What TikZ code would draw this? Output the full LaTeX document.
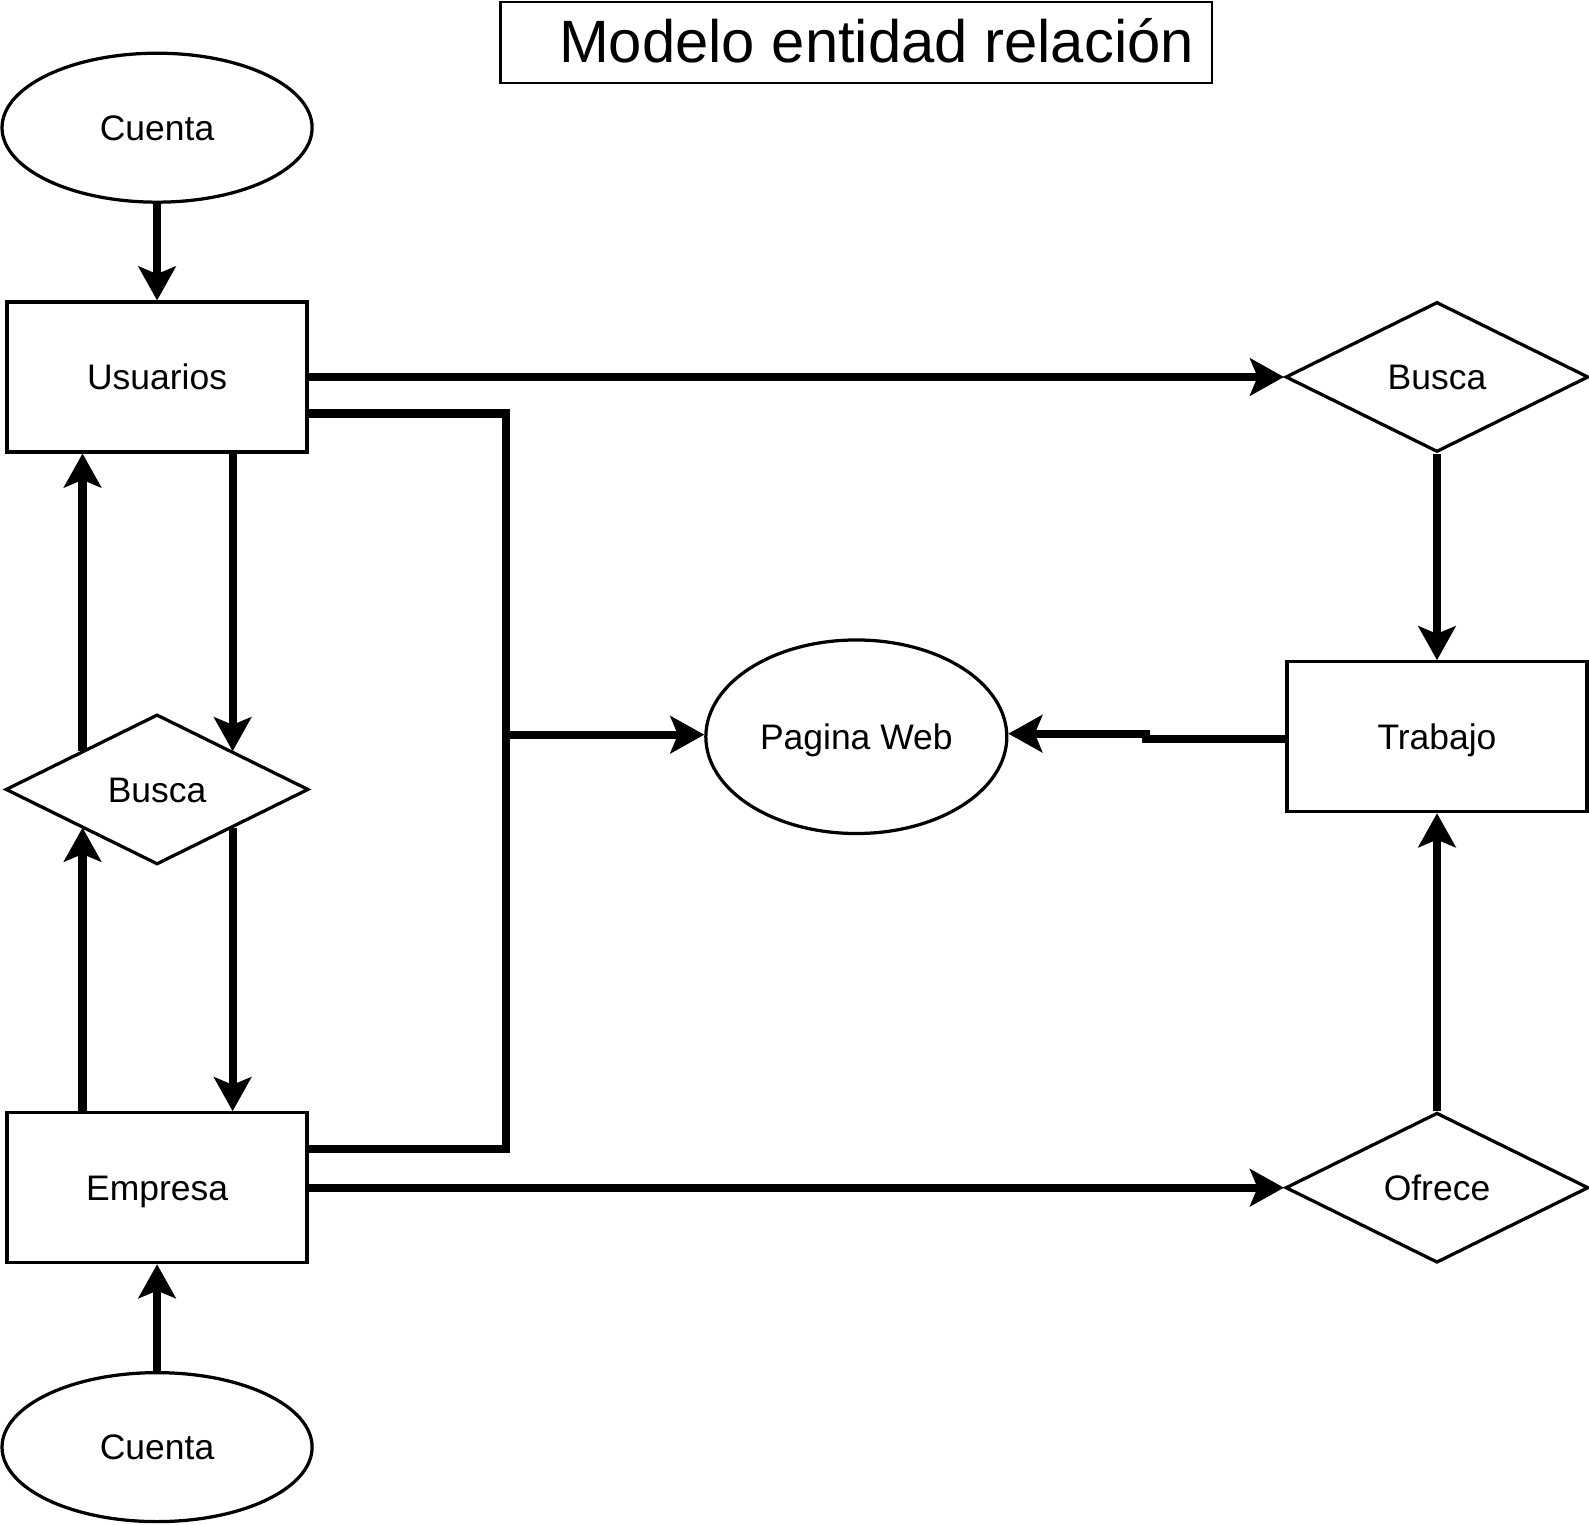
\documentclass[tikz,border=0pt]{standalone}
\usepackage{fontspec}
\setmainfont{Liberation Sans}
\usetikzlibrary{shapes.geometric}
\usetikzlibrary{arrows.meta}
\newcommand{\letra}{\fontsize{17.5}{21}\selectfont}

\begin{document}
\begin{tikzpicture}[x=0.5pt,y=-0.5pt,
    every node/.style={text height=13pt,text depth=0.6pt},
    entidad/.style={draw,line width=1.6pt,minimum width=148pt,minimum height=74pt,inner sep=0pt,font=\letra},
    atributo/.style={draw,ellipse,line width=1.6pt,minimum width=153pt,minimum height=73.5pt,inner sep=0pt,font=\letra},
    relacion/.style={draw,diamond,line width=1.6pt,minimum width=149.5pt,minimum height=74pt,inner sep=0pt,font=\letra},
    flecha/.style={line width=4pt,-{Stealth[length=17pt,width=19pt,inset=4pt,line width=0pt]}},
    linea/.style={line width=4pt}]
      \useasboundingbox (0,0) rectangle (1568,1504);
      % titulo
      \node[draw,line width=1.2pt,minimum width=351pt,minimum height=40pt,inner sep=0pt,
            text height=21pt,text depth=1pt,
            font=\fontsize{29.5}{34}\selectfont] (titulo) at (845,42) {\hspace*{20pt}Modelo entidad relación};

      % lado izquierdo
      \node[atributo] (cuenta1) at (155,126) {Cuenta};
      \node[entidad] (usuarios) at (155,372) {Usuarios};
      \node[relacion] (busca1) at (155,779) {Busca};
      \node[entidad] (empresa) at (155,1172) {Empresa};
      \node[atributo] (cuenta2) at (155,1428) {Cuenta};

      % centro y lado derecho
      \node[atributo,minimum width=148.5pt,minimum height=95.5pt] (web) at (845,727) {Pagina Web};
      \node[relacion] (busca2) at (1418,372) {Busca};
      \node[entidad] (trabajo) at (1418,727) {Trabajo};
      \node[relacion] (ofrece) at (1418,1172) {Ofrece};
      \coordinate (union) at (499,725);

      \draw[flecha] (cuenta1) -- (usuarios);
      \draw[flecha] (cuenta2) -- (empresa);
      \draw[flecha] ([xshift=-0.5pt]usuarios.south -| busca1.north east) -- ([xshift=-0.5pt]busca1.north east);
      \draw[flecha] ([xshift=-0.5pt]busca1.south east) -- ([xshift=-0.5pt]busca1.south east |- empresa.north);
      \draw[flecha] ([xshift=1pt]empresa.north -| busca1.south west) -- ([xshift=1pt]busca1.south west);
      \draw[flecha] ([xshift=1pt]busca1.north west) -- ([xshift=1pt]busca1.north west |- usuarios.south);

      \draw[flecha] (usuarios.east) -- (busca2.west);
      \draw[flecha] (empresa.east) -- (ofrece.west);
      \draw[flecha] (busca2.south) -- (trabajo.north);
      \draw[flecha] (ofrece.north) -- (trabajo.south);

      \draw[linea] ([yshift=-18pt]usuarios.east) -| (union);
      \draw[linea] ([yshift=19pt]empresa.east) -| (union);
      \draw[flecha] (union) -- (union -| web.west);
      \draw[flecha] ([yshift=-1pt]trabajo.west) -- ++(-138,0) |- ([yshift=1.5pt]web.east);
\end{tikzpicture}
\end{document}
